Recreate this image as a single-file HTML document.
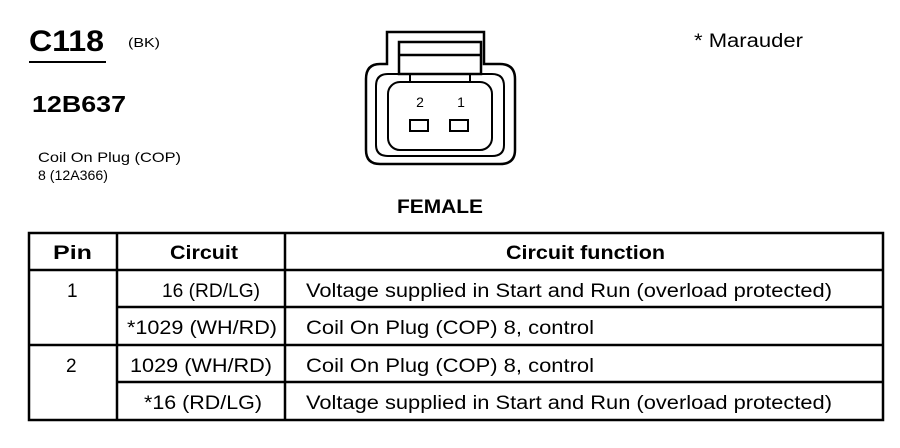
<!DOCTYPE html>
<html><head><meta charset="utf-8"><style>
html,body{margin:0;padding:0;background:#fff;}
svg{display:block;font-family:"Liberation Sans",Arial,sans-serif;}
</style></head><body>
<svg width="900" height="448" viewBox="0 0 900 448" xmlns="http://www.w3.org/2000/svg">
<rect width="900" height="448" fill="#fff"/>
<text x="29" y="51" font-size="30" font-weight="bold" textLength="75" lengthAdjust="spacingAndGlyphs">C118</text>
<line x1="29" y1="62" x2="106" y2="62" stroke="#000" stroke-width="2"/>
<text x="128" y="47" font-size="13" textLength="32" lengthAdjust="spacingAndGlyphs">(BK)</text>
<text x="32" y="112" font-size="23" font-weight="bold" textLength="94" lengthAdjust="spacingAndGlyphs">12B637</text>
<text x="38" y="162" font-size="14" textLength="143" lengthAdjust="spacingAndGlyphs">Coil On Plug (COP)</text>
<text x="38" y="180" font-size="14" textLength="70" lengthAdjust="spacingAndGlyphs">8 (12A366)</text>
<text x="694" y="47" font-size="19" textLength="109" lengthAdjust="spacingAndGlyphs">* Marauder</text>
<g fill="none" stroke="#000" stroke-width="2.5">
<path d="M387 32 H484 V64 H500 Q515 64 515 79 V150 Q515 164 500 164 H380 Q366 164 366 150 V79 Q366 64 380 64 H387 Z"/>
<path d="M399 42 H481 V74 H492 Q504 74 504 86 V145 Q504 156 492 156 H388 Q376 156 376 145 V86 Q376 74 388 74 H399 Z" stroke-width="2"/>
<path d="M399 42 H481 V74 H399 Z"/>
<line x1="399" y1="55" x2="481" y2="55"/>
<line x1="410" y1="74" x2="410" y2="82" stroke-width="2"/>
<line x1="470" y1="74" x2="470" y2="82" stroke-width="2"/>
<rect x="388" y="82" width="104" height="68" rx="12" stroke-width="2"/>
<rect x="410" y="120" width="18" height="11" stroke-width="2"/>
<rect x="450" y="120" width="18" height="11" stroke-width="2"/>
</g>
<text x="420" y="107" font-size="14" text-anchor="middle">2</text>
<text x="461" y="107" font-size="14" text-anchor="middle">1</text>
<text x="397" y="213" font-size="19" font-weight="bold" textLength="86" lengthAdjust="spacingAndGlyphs">FEMALE</text>
<g stroke="#000" stroke-width="2.5" fill="none">
<rect x="29" y="233" width="854" height="187"/>
<line x1="29" y1="270" x2="883" y2="270"/>
<line x1="117" y1="233" x2="117" y2="420"/>
<line x1="285" y1="233" x2="285" y2="420"/>
<line x1="117" y1="307" x2="883" y2="307"/>
<line x1="29" y1="345" x2="883" y2="345"/>
<line x1="117" y1="382" x2="883" y2="382"/>
</g>
<g font-size="19" lengthAdjust="spacingAndGlyphs">
<text x="53" y="259" font-weight="bold" textLength="39" lengthAdjust="spacingAndGlyphs">Pin</text>
<text x="170" y="259" font-weight="bold" textLength="68" lengthAdjust="spacingAndGlyphs">Circuit</text>
<text x="506" y="259" font-weight="bold" textLength="159" lengthAdjust="spacingAndGlyphs">Circuit function</text>
<text x="67" y="297">1</text>
<text x="66" y="372">2</text>
<text x="162" y="297" textLength="98" lengthAdjust="spacingAndGlyphs">16 (RD/LG)</text>
<text x="127" y="334" textLength="150" lengthAdjust="spacingAndGlyphs">*1029 (WH/RD)</text>
<text x="130" y="372" textLength="142" lengthAdjust="spacingAndGlyphs">1029 (WH/RD)</text>
<text x="144" y="409" textLength="118" lengthAdjust="spacingAndGlyphs">*16 (RD/LG)</text>
<text x="306" y="297" textLength="526" lengthAdjust="spacingAndGlyphs">Voltage supplied in Start and Run (overload protected)</text>
<text x="306" y="334" textLength="288" lengthAdjust="spacingAndGlyphs">Coil On Plug (COP) 8, control</text>
<text x="306" y="372" textLength="288" lengthAdjust="spacingAndGlyphs">Coil On Plug (COP) 8, control</text>
<text x="306" y="409" textLength="526" lengthAdjust="spacingAndGlyphs">Voltage supplied in Start and Run (overload protected)</text>
</g>
</svg>
</body></html>
